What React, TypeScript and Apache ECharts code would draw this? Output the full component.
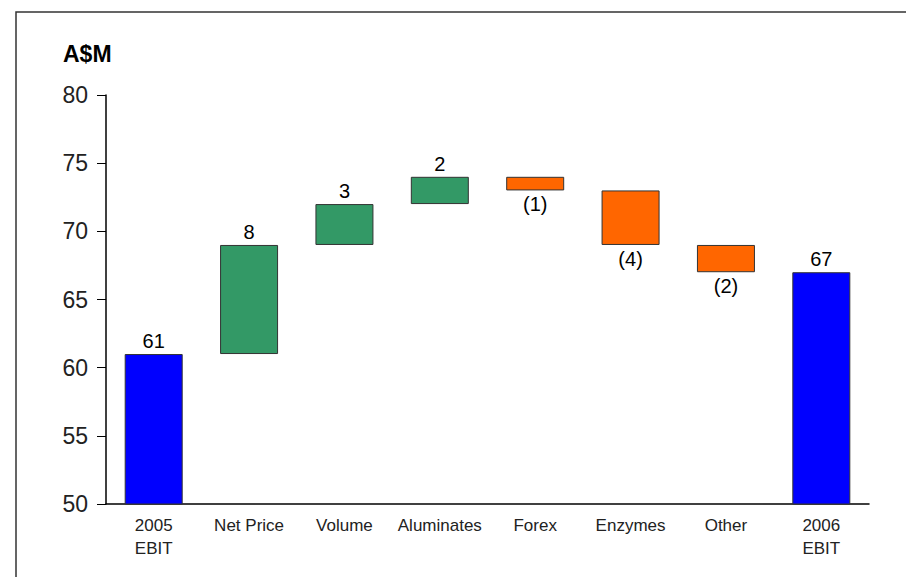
import React, { useEffect, useRef } from "react";
import * as echarts from "echarts";

const categories = ["2005\nEBIT", "Net Price", "Volume", "Aluminates", "Forex", "Enzymes", "Other", "2006\nEBIT"];
const startTotal = 61;
const endTotal = 67;
const changes = [8, 3, 2, -1, -4, -2];
const yTicks = { min: 50, max: 80, interval: 5 };
const unitLabel = "A$M";

export default function App() {
  const ref = useRef<HTMLDivElement>(null);
  useEffect(() => {
    if (!ref.current) return;
    const chart = echarts.init(ref.current, undefined, { renderer: "svg" });
    const n = categories.length;
    const base: any[] = new Array(n).fill("-");
    const totals: any[] = new Array(n).fill("-");
    const ups: any[] = new Array(n).fill("-");
    const downs: any[] = new Array(n).fill("-");
    totals[0] = startTotal;
    totals[n - 1] = endTotal;
    let run = startTotal;
    changes.forEach((c, i) => {
      const idx = i + 1;
      if (c >= 0) {
        base[idx] = run;
        ups[idx] = c;
      } else {
        base[idx] = run + c;
        downs[idx] = -c;
      }
      run += c;
    });
    const font = "'Liberation Sans', Arial, sans-serif";
    chart.setOption({
      animation: false,
      grid: { left: 106, right: 37, top: 95, bottom: 73 },
      graphic: [
        {
          type: "rect",
          shape: { x: 16, y: 12, width: 1200, height: 1200 },
          style: { fill: "none", stroke: "#333", lineWidth: 1.5 },
          silent: true,
        },
        {
          type: "text",
          x: 63,
          y: 42,
          style: { text: unitLabel, font: `bold 23px ${font}`, fill: "#000" },
        },
      ],
      xAxis: {
        type: "category",
        data: categories,
        axisLine: { lineStyle: { color: "#000", width: 1.5 } },
        axisTick: { show: false },
        axisLabel: { interval: 0, fontFamily: font, fontSize: 17, color: "#222", lineHeight: 23, margin: 10 },
      },
      yAxis: {
        type: "value",
        min: yTicks.min,
        max: yTicks.max,
        interval: yTicks.interval,
        axisLine: { show: true, lineStyle: { color: "#000", width: 1.5 } },
        axisTick: { show: true, inside: false, length: 9, lineStyle: { color: "#000" } },
        splitLine: { show: false },
        axisLabel: { fontFamily: font, fontSize: 23, color: "#222", margin: 18 },
      },
      series: [
        {
          type: "bar",
          stack: "w",
          data: base,
          barWidth: 58,
          itemStyle: { color: "transparent" },
          silent: true,
        },
        {
          type: "bar",
          stack: "w",
          data: totals,
          barWidth: 58,
          itemStyle: { color: "#0000FF", borderColor: "#333", borderWidth: 1 },
          label: { show: true, position: "top", distance: 3, fontFamily: font, fontSize: 20, color: "#000" },
        },
        {
          type: "bar",
          stack: "w",
          data: ups,
          barWidth: 58,
          itemStyle: { color: "#339966", borderColor: "#333", borderWidth: 1 },
          label: { show: true, position: "top", distance: 3, fontFamily: font, fontSize: 20, color: "#000" },
        },
        {
          type: "bar",
          stack: "w",
          data: downs,
          barWidth: 58,
          itemStyle: { color: "#FF6600", borderColor: "#333", borderWidth: 1 },
          label: {
            show: true,
            position: "bottom",
            distance: 4,
            fontFamily: font,
            fontSize: 20,
            color: "#000",
            formatter: (p: any) => `(${p.value})`,
          },
        },
      ],
    });
    return () => chart.dispose();
  }, []);
  return <div ref={ref} style={{ position: "absolute", left: 0, top: 0, width: 906, height: 577 }} />;
}
